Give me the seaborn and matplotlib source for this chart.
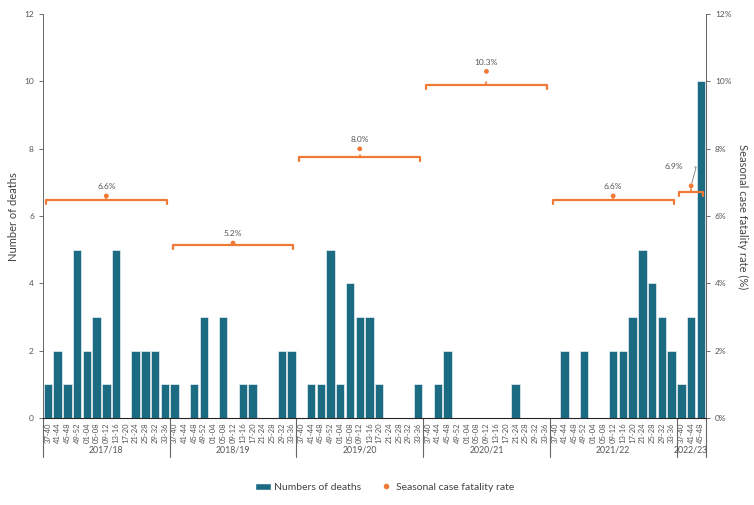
import numpy as np
import pandas as pd
import seaborn as sns
import matplotlib.pyplot as plt
from matplotlib.transforms import blended_transform_factory
from matplotlib.lines import Line2D
from matplotlib.patches import Patch

# four-week periods of a season (week 37 to week 36)
periods = ['37-40', '41-44', '45-48', '49-52', '01-04', '05-08', '09-12',
           '13-16', '17-20', '21-24', '25-28', '29-32', '33-36']
seasons = ['2017/18', '2018/19', '2019/20', '2020/21', '2021/22', '2022/23']

deaths_1718 = [1, 2, 1, 5, 2, 3, 1, 5, 0, 2, 2, 2, 1]
deaths_1819 = [1, 0, 1, 3, 0, 3, 0, 1, 1, 0, 0, 2, 2]
deaths_1920 = [0, 1, 1, 5, 1, 4, 3, 3, 1, 0, 0, 0, 1]
deaths_2021 = [0, 1, 2, 0, 0, 0, 0, 0, 0, 1, 0, 0, 0]
deaths_2122 = [0, 2, 0, 2, 0, 0, 2, 2, 3, 5, 4, 3, 2]
deaths_2223 = [1, 3, 10]

cfr = [6.6, 5.2, 8.0, 10.3, 6.6, 6.9]          # seasonal case fatality rate, %
bracket_levels = [6.47, 5.15, 7.75, 9.9, 6.47, 6.73]

all_deaths = [deaths_1718, deaths_1819, deaths_1920, deaths_2021, deaths_2122, deaths_2223]

rows = []
for s, d in zip(seasons, all_deaths):
    for p, v in zip(periods, d):
        rows.append({'season': s, 'period': p, 'deaths': v})
df = pd.DataFrame(rows)
df['idx'] = np.arange(len(df))

bar_col = '#1b6b83'
orange = '#f07a35'
grey = '#555555'

sns.set_style('white')
plt.rcParams['font.family'] = ['Lato', 'DejaVu Sans']

fig = plt.figure(figsize=(7.54, 5.05), dpi=100)
ax = fig.add_axes([0.057, 0.172, 0.879, 0.80])

sns.barplot(data=df, x='idx', y='deaths', color=bar_col, saturation=1,
            width=0.86, edgecolor='white', linewidth=0.4, ax=ax)

ax.set_xlim(-0.5, len(df) - 0.5)
ax.set_ylim(0, 12)
ax.set_yticks(range(0, 13, 2))
ax.set_xticks(df['idx'])
ax.set_xticklabels(df['period'])
ax.tick_params(axis='x', length=0, pad=3, labelsize=5.5, rotation=90, colors=grey)
ax.tick_params(axis='y', length=3, width=0.6, labelsize=6, colors=grey, left=True)
ax.set_xlabel('')
ax.set_ylabel('Number of deaths', fontsize=8, color='#444444')

for side in ['top']:
    ax.spines[side].set_visible(False)
for side in ['left', 'right', 'bottom']:
    ax.spines[side].set_color('#666666')
    ax.spines[side].set_linewidth(0.7)

ax2 = ax.twinx()
ax2.set_ylim(0, 12)
ax2.set_yticks(range(0, 13, 2))
ax2.set_yticklabels([f'{t}%' for t in range(0, 13, 2)])
ax2.tick_params(axis='y', length=3, width=0.6, labelsize=6, colors=grey, right=True)
ax2.set_ylabel('Seasonal case fatality rate (%)', fontsize=8, color='#444444',
               rotation=270, labelpad=12)
ax2.spines['top'].set_visible(False)
ax2.spines['right'].set_color('#666666')
ax2.spines['right'].set_linewidth(0.7)
ax2.spines['left'].set_visible(False)

# season groups under the x axis
trans = blended_transform_factory(ax.transData, ax.transAxes)
starts = df.groupby('season', sort=False)['idx'].min().values
ends = df.groupby('season', sort=False)['idx'].max().values
bounds = list(starts - 0.5) + [ends[-1] + 0.5]
for b in bounds:
    ax.add_line(Line2D([b, b], [0, -0.097], transform=trans, color='#666666',
                       lw=0.8, clip_on=False))
for s, a, e in zip(seasons, starts, ends):
    ax.text((a + e) / 2, -0.08, s, transform=trans, ha='center', va='center',
            fontsize=6.3, color=grey)

# CFR brackets, dots and labels
for i, (s, a, e) in enumerate(zip(seasons, starts, ends)):
    lvl = bracket_levels[i]
    x0, x1 = a - 0.2, e + 0.2
    mid = (a + e) / 2
    ax.plot([x0, x0, x1, x1], [lvl - 0.12, lvl, lvl, lvl - 0.12], color=orange,
            lw=1.6, solid_joinstyle='round', solid_capstyle='round')
    ax.plot([mid, mid], [lvl, lvl + 0.08], color=orange, lw=1.2)
    ax.scatter([mid], [cfr[i]], color=orange, s=12, zorder=5, edgecolors='none')
    if s == '2022/23':
        ax.annotate(f'{cfr[i]}%', xy=(mid, cfr[i]), xytext=(mid - 1.8, cfr[i] + 0.56),
                    ha='center', va='center', fontsize=6, color=grey,
                    arrowprops=dict(arrowstyle='-', color='#777777', lw=0.6,
                                    connectionstyle='angle,angleA=0,angleB=75,rad=0',
                                    shrinkA=6, shrinkB=2))
    else:
        ax.text(mid, cfr[i] + 0.27, f'{cfr[i]}%', ha='center', va='center',
                fontsize=6, color=grey)

handles = [Patch(facecolor=bar_col, label='Numbers of deaths'),
           Line2D([], [], marker='o', color='none', markerfacecolor=orange,
                  markeredgecolor='none', markersize=4, label='Seasonal case fatality rate')]
fig.legend(handles=handles, loc='center', bbox_to_anchor=(0.51, 0.035), ncol=2,
           frameon=False, fontsize=7.5, handlelength=1.6, handleheight=0.7,
           columnspacing=1.6, handletextpad=0.2, labelcolor='#444444')

fig.savefig('out.png', dpi=100)
